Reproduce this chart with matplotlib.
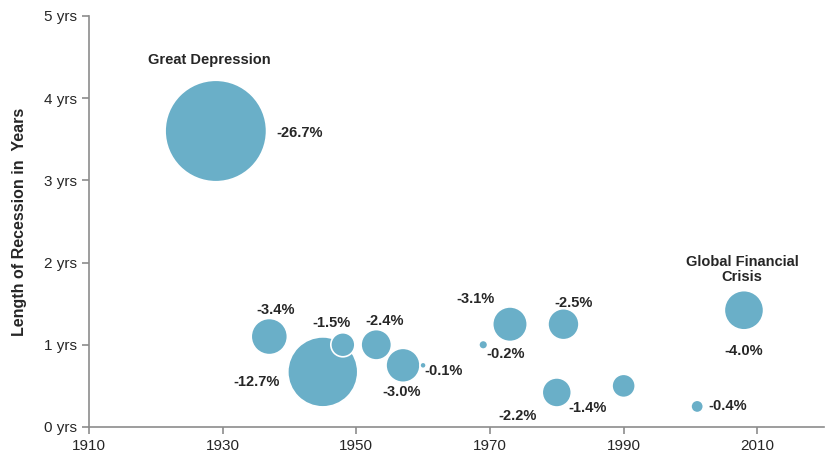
import matplotlib
matplotlib.use("Agg")
import matplotlib.pyplot as plt
import numpy as np

plt.rcParams['font.family'] = ['Liberation Sans', 'DejaVu Sans']

#---------------------------------- DATA ----------------------------------
years = [1929, 1937, 1945, 1948, 1953, 1957, 1960, 1969, 1973, 1980, 1981, 1990, 2001, 2008]
lengths = [3.6, 1.1, 0.67, 1.0, 1.0, 0.75, 0.75, 1.0, 1.25, 0.42, 1.25, 0.5, 0.25, 1.42]
gdp_drop = [-26.7, -3.4, -12.7, -1.5, -2.4, -3.0, -0.1, -0.2, -3.1, -2.2, -2.5, -1.4, -0.4, -4.0]
labels = ["-26.7%", "-3.4%", "-12.7%", "-1.5%", "-2.4%", "-3.0%", "-0.1%", "-0.2%",
          "-3.1%", "-2.2%", "-2.5%", "-1.4%", "-0.4%", "-4.0%"]

# offset of each label from its bubble (pixels), and alignment
label_offsets = [(61, -2), (6, 27), (-66, -10), (-11, 22), (8, 24), (-1, -27), (20, -6), (22, -9),
                 (-34, 25), (-39, -24), (10, 21), (-36, -22), (31, 0), (0, -41)]
label_ha = ["left"] + ["center"] * 13

y_ticks = [0, 1, 2, 3, 4, 5]
y_tick_labels = ["0 yrs", "1 yrs", "2 yrs", "3 yrs", "4 yrs", "5 yrs"]
x_ticks = [1910, 1930, 1950, 1970, 1990, 2010]

#---------------------------------- PLOT ----------------------------------
fig = plt.figure(figsize=(8.3, 4.54), dpi=100)
ax = fig.add_axes([0.107, 0.0595, 0.886, 0.9055])

bubble_color = "#6AAFC8"
text_color = "#262626"

sizes = [200 * abs(v) for v in gdp_drop]
ax.scatter(years, lengths, s=sizes, color=bubble_color, edgecolors="white", linewidths=1.2, zorder=3)

for x, y, lab, off, ha in zip(years, lengths, labels, label_offsets, label_ha):
    ax.annotate(lab, (x, y), xytext=off, textcoords="offset pixels", ha=ha, va="center",
                fontsize=10.5, fontweight="bold", color=text_color)

# titoli delle due crisi principali
ax.annotate("Great Depression", (years[0], lengths[0]), xytext=(-7, 71), textcoords="offset pixels",
            ha="center", va="center", fontsize=10.5, fontweight="bold", color=text_color)
ax.annotate("Global Financial\nCrisis", (years[-1], lengths[-1]), xytext=(-2, 41), textcoords="offset pixels",
            ha="center", va="center", fontsize=10.5, fontweight="bold", color=text_color, linespacing=1.1)

ax.set_xlim(1910, 2020)
ax.set_ylim(0, 5)
ax.set_xticks(x_ticks)
ax.set_yticks(y_ticks)
ax.set_yticklabels(y_tick_labels)

for side in ["top", "right"]:
    ax.spines[side].set_visible(False)
for side in ["left", "bottom"]:
    ax.spines[side].set_color("#8c8c8c")
    ax.spines[side].set_linewidth(1.2)

ax.tick_params(axis="both", colors="#8c8c8c", length=5, width=1.2, labelsize=11, labelcolor=text_color)
ax.set_ylabel("Length of Recession in  Years", fontsize=11.5, fontweight="bold", color=text_color, labelpad=12)

fig.savefig("out.png", dpi=100)
